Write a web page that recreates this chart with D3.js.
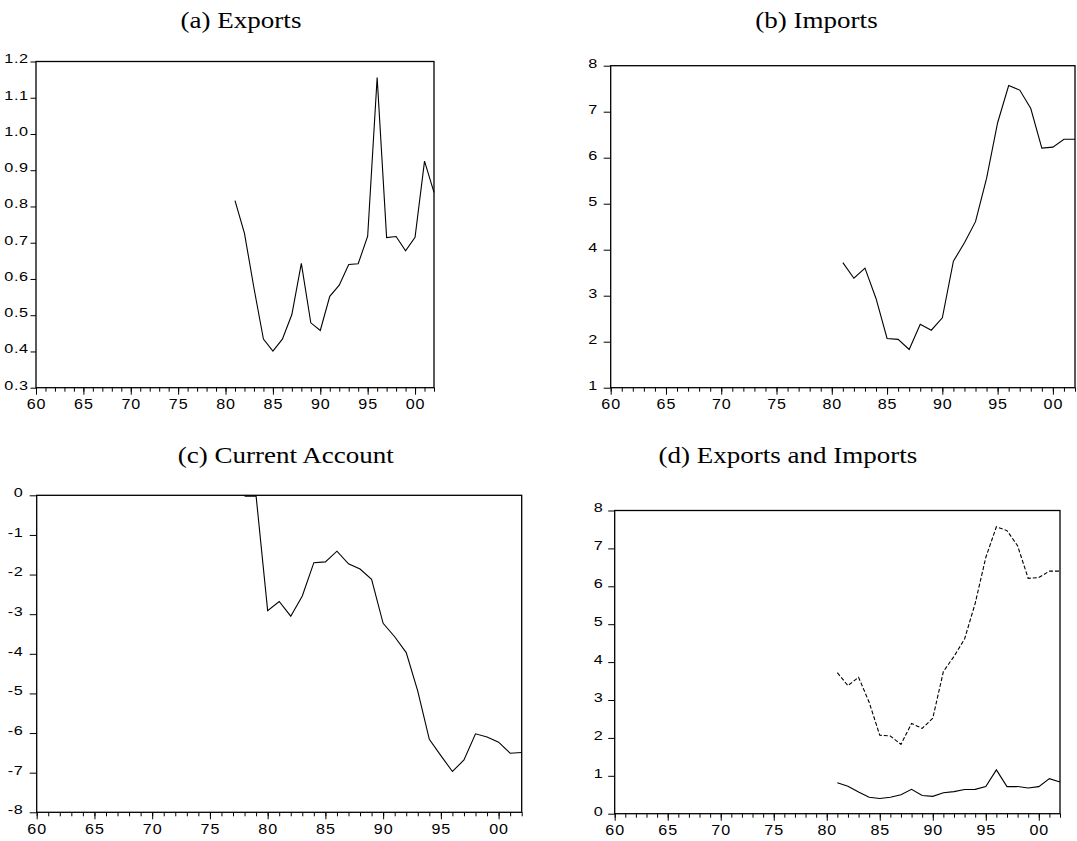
<!DOCTYPE html>
<html>
<head>
<meta charset="utf-8">
<title>Exports, Imports and Current Account</title>
<script src="https://d3js.org/d3.v7.min.js"></script>
<style>
  body { margin: 0; background: #fff; }
  .title { font-family: 'Liberation Serif', 'Times New Roman', serif; font-size: 23.5px; fill: #000; }
  .tick text { font-family: 'Liberation Sans', Arial, sans-serif; fill: #000; }
  .tick line { stroke: #000; }
</style>
</head>
<body>
<script>
// ---- data ----
const years = [1981, 1982, 1983, 1984, 1985, 1986, 1987, 1988, 1989, 1990, 1991,
               1992, 1993, 1994, 1995, 1996, 1997, 1998, 1999, 2000, 2001, 2002];
const exportsVals = [0.816, 0.726, 0.575, 0.434, 0.401, 0.434, 0.502, 0.643, 0.479, 0.458, 0.552,
                     0.583, 0.640, 0.642, 0.718, 1.156, 0.714, 0.717, 0.678, 0.715, 0.925, 0.839];
const importsVals = [3.72, 3.38, 3.60, 2.94, 2.07, 2.05, 1.83, 2.38, 2.25, 2.52, 3.75,
                     4.15, 4.61, 5.55, 6.76, 7.57, 7.47, 7.07, 6.21, 6.23, 6.40, 6.40];
const caYears = [1978, 1979, 1980, 1981, 1982, 1983, 1984, 1985, 1986, 1987, 1988, 1989, 1990,
                 1991, 1992, 1993, 1994, 1995, 1996, 1997, 1998, 1999, 2000, 2001, 2002];
const currentAccountVals = [-0.02, -0.02, -2.91, -2.68, -3.05, -2.54, -1.70, -1.68, -1.41, -1.73, -1.86, -2.12, -3.23,
                            -3.57, -3.97, -4.94, -6.16, -6.57, -6.97, -6.68, -6.02, -6.10, -6.23, -6.51, -6.49];
const xTickYears = [1960, 1965, 1970, 1975, 1980, 1985, 1990, 1995, 2000];
const xMinorYears = d3.range(1960, 2003);
const yTicksA = [0.3, 0.4, 0.5, 0.6, 0.7, 0.8, 0.9, 1.0, 1.1, 1.2];
const yTicksB = [1, 2, 3, 4, 5, 6, 7, 8];
const yTicksC = [0, -1, -2, -3, -4, -5, -6, -7, -8];
const yTicksD = [0, 1, 2, 3, 4, 5, 6, 7, 8];

const W = 1077, H = 841;
const svg = d3.select('body').append('svg').attr('width', W).attr('height', H);

// plain hyphen for negatives, like the original
const intFmt = d => String(d);
const decFmt = d => d.toFixed(1);

const panels = [
  { title: '(a) Exports', tx: 241, ty: 28, left: 36, right: 434, top: 61.5, bottom: 387.7,
    yDomain: [0.3, 1.2], yTicks: yTicksA, fmt: decFmt, tick: 5.5, gap: 7.5,
    series: [{ xs: years, ys: exportsVals, dash: null }] },
  { title: '(b) Imports', tx: 816.5, ty: 27.5, left: 610.7, right: 1075, top: 65.7, bottom: 387.7,
    yDomain: [1, 8], yTicks: yTicksB, fmt: intFmt, tick: 7, gap: 13,
    series: [{ xs: years, ys: importsVals, dash: null }] },
  { title: '(c) Current Account', tx: 285.7, ty: 463, left: 36.7, right: 521.7, top: 495.3, bottom: 812.3,
    yDomain: [-8, 0], yTicks: yTicksC, fmt: intFmt, tick: 7, gap: 13.5,
    series: [{ xs: caYears, ys: currentAccountVals, dash: null }] },
  { title: '(d) Exports and Imports', tx: 787.8, ty: 463, left: 614.7, right: 1060, top: 510.5, bottom: 813.7,
    yDomain: [0, 8], yTicks: yTicksD, fmt: intFmt, tick: 6.5, gap: 11.5,
    series: [{ xs: years, ys: importsVals, dash: '4,2' }, { xs: years, ys: exportsVals, dash: null }] }
];

const yearFmt = d => String(d % 100).padStart(2, '0');

panels.forEach(p => {
  const x = d3.scaleLinear().domain([1960, 2002]).range([p.left, p.right]);
  const y = d3.scaleLinear().domain(p.yDomain).range([p.bottom, p.top]);
  const g = svg.append('g');

  g.append('text')
    .attr('class', 'title')
    .attr('text-anchor', 'middle')
    .attr('transform', `translate(${p.tx},${p.ty}) scale(1.15,1)`)
    .text(p.title);

  // minor year ticks
  g.append('g')
    .attr('transform', `translate(0,${p.bottom})`)
    .call(d3.axisBottom(x).tickValues(xMinorYears).tickSize(4).tickFormat(''))
    .call(a => a.select('.domain').remove());

  // labelled ticks every 5 years
  g.append('g')
    .attr('transform', `translate(0,${p.bottom})`)
    .call(d3.axisBottom(x).tickValues(xTickYears).tickSize(7).tickFormat(yearFmt))
    .call(a => a.select('.domain').remove())
    .call(a => a.selectAll('text')
      .attr('y', 21.5).attr('dy', null)
      .attr('font-size', 14)
      .attr('letter-spacing', 0.8)
      .attr('transform', 'scale(1.15,1)'));

  g.append('g')
    .attr('transform', `translate(${p.left},0)`)
    .call(d3.axisLeft(y).tickValues(p.yTicks).tickSize(p.tick).tickFormat(p.fmt))
    .call(a => a.select('.domain').remove())
    .call(a => a.selectAll('text')
      .attr('x', -p.gap / 1.35)
      .attr('dy', '0.12em')
      .attr('font-size', 12)
      .attr('letter-spacing', 0.4)
      .attr('transform', 'scale(1.35,1)'));

  g.append('rect')
    .attr('x', p.left).attr('y', p.top)
    .attr('width', p.right - p.left).attr('height', p.bottom - p.top)
    .attr('fill', 'none').attr('stroke', '#000').attr('stroke-width', 1.3);

  p.series.forEach(s => {
    const pts = s.xs.map((yr, i) => [yr, s.ys[i]]);
    g.append('path')
      .datum(pts)
      .attr('fill', 'none')
      .attr('stroke', '#000')
      .attr('stroke-width', 1.1)
      .attr('stroke-dasharray', s.dash)
      .attr('d', d3.line().x(d => x(d[0])).y(d => y(d[1])));
  });
});
</script>
</body>
</html>
